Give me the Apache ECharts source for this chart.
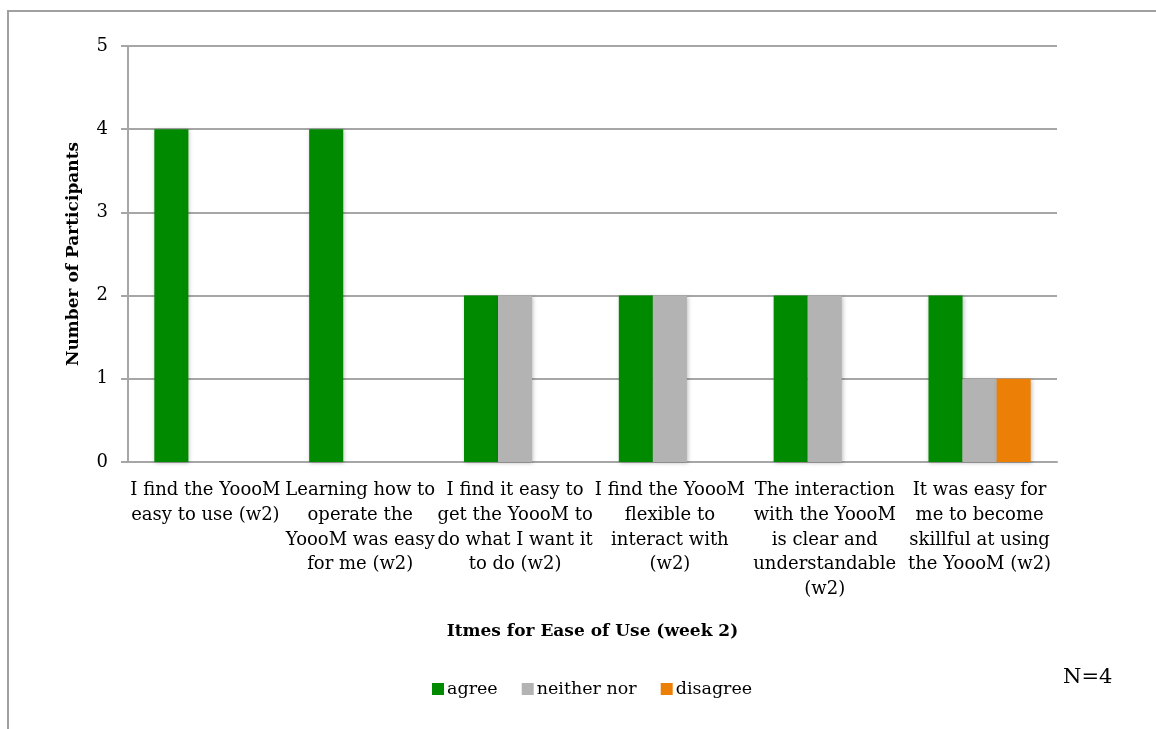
<!DOCTYPE html>
<html>
<head>
<meta charset="utf-8">
<script src="https://cdn.jsdelivr.net/npm/echarts@6/dist/echarts.min.js"></script>
<style>
html, body { margin: 0; padding: 0; background: #fff; }
#chart { width: 1156px; height: 729px; }
</style>
</head>
<body>
<div id="chart"></div>
<script>
// categories (line breaks as in the original)
const categories = [
	'I find the YoooM\neasy to use (w2)',
	'Learning how to\noperate the\nYoooM was easy\nfor me (w2)',
	'I find it easy to\nget the YoooM to\ndo what I want it\nto do (w2)',
	'I find the YoooM\nflexible to\ninteract with\n(w2)',
	'The interaction\nwith the YoooM\nis clear and\nunderstandable\n(w2)',
	'It was easy for\nme to become\nskillful at using\nthe YoooM (w2)'
];
const agree = [4, 4, 2, 2, 2, 2];
const neither = [0, 0, 2, 2, 2, 1];
const disagree = [0, 0, 0, 0, 0, 1];
const yTicks = [0, 1, 2, 3, 4, 5];

const font = 'DejaVu Serif';
const chart = echarts.init(document.getElementById('chart'));

function barSeries(name, data, color) {
	return {
		name: name,
		type: 'bar',
		data: data,
		barGap: 0,
		barCategoryGap: '34%',
		itemStyle: {
			color: color,
			shadowColor: 'rgba(0,0,0,0.25)',
			shadowBlur: 4,
			shadowOffsetX: 1,
			shadowOffsetY: 1
		}
	};
}

const option = {
	animation: false,
	textStyle: { fontFamily: font },
	grid: {
		left: 128,
		right: 99,
		top: 46,
		bottom: 267
	},
	legend: {
		bottom: 26,
		left: 427,
		itemWidth: 12,
		itemHeight: 12,
		itemGap: 24,
		icon: 'rect',
		textStyle: { fontFamily: font, fontSize: 17.5, color: '#000', padding: [0, 0, 0, -2] },
		data: ['agree', 'neither nor', 'disagree']
	},
	xAxis: {
		type: 'category',
		data: categories,
		name: 'Itmes for Ease of Use (week 2)',
		nameLocation: 'middle',
		nameGap: 161,
		nameTextStyle: { fontFamily: font, fontSize: 17, fontWeight: 'bold', color: '#000' },
		axisLine: { lineStyle: { color: '#a6a6a6', width: 2 } },
		axisTick: { show: false },
		axisLabel: {
			interval: 0,
			color: '#000',
			fontSize: 18,
			lineHeight: 24.75,
			margin: 16,
			align: 'center',
			verticalAlign: 'top'
		}
	},
	yAxis: {
		type: 'value',
		min: yTicks[0],
		max: yTicks[yTicks.length - 1],
		interval: 1,
		name: 'Number of Participants',
		nameLocation: 'middle',
		nameGap: 46,
		nameTextStyle: { fontFamily: font, fontSize: 17, fontWeight: 'bold', color: '#000' },
		axisLine: { show: true, lineStyle: { color: '#a6a6a6', width: 2 } },
		axisTick: { show: true, length: 7, lineStyle: { color: '#a6a6a6', width: 2 } },
		axisLabel: { color: '#000', fontSize: 18, margin: 20 },
		splitLine: { lineStyle: { color: '#a6a6a6', width: 2 } }
	},
	graphic: [
		{
			type: 'rect',
			shape: { x: 8, y: 11, width: 1200, height: 800 },
			style: { fill: 'none', stroke: '#a0a0a0', lineWidth: 2 },
			silent: true
		},
		{
			type: 'text',
			left: 1063,
			top: 667,
			style: { text: 'N=4', font: '21px "DejaVu Serif"', fill: '#000' }
		}
	],
	series: [
		barSeries('agree', agree, '#008a00'),
		barSeries('neither nor', neither, '#b3b3b3'),
		barSeries('disagree', disagree, '#ec8006')
	]
};

chart.setOption(option);
</script>
</body>
</html>
